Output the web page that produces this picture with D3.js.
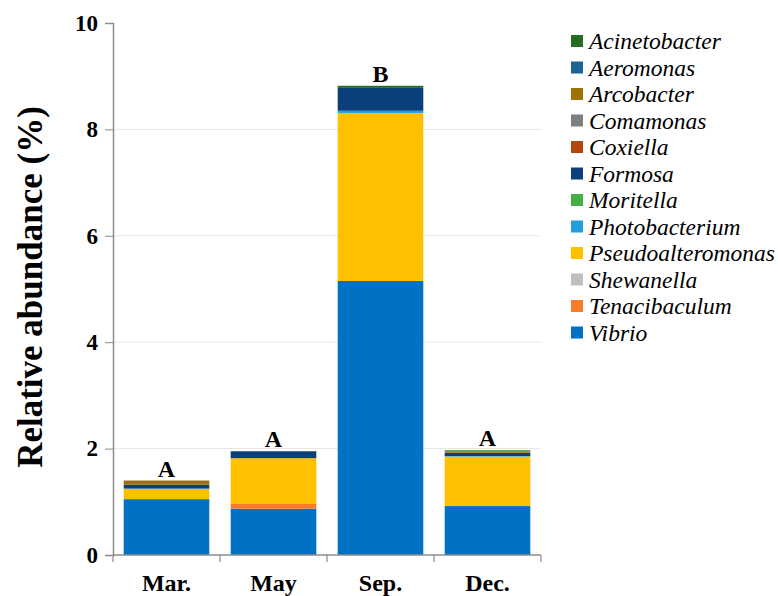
<!DOCTYPE html>
<html>
<head>
<meta charset="utf-8">
<script src="https://cdn.jsdelivr.net/npm/d3@7"></script>
<style>
  html, body { margin: 0; padding: 0; background: #fff; }
  svg { display: block; }
</style>
</head>
<body>
<svg id="chart" width="778" height="596"></svg>
<script>
// Sampling months
const months = ["Mar.", "May", "Sep.", "Dec."];

// Genera, in legend order (top of legend = top of stack)
const genera = ["Acinetobacter", "Aeromonas", "Arcobacter", "Comamonas", "Coxiella", "Formosa",
                "Moritella", "Photobacterium", "Pseudoalteromonas", "Shewanella", "Tenacibaculum", "Vibrio"];

// Relative abundance (%) per genus, one value per month (Mar., May, Sep., Dec.)
const acinetobacter     = [0.00, 0.00, 0.04, 0.01];
const aeromonas         = [0.00, 0.00, 0.00, 0.01];
const arcobacter        = [0.08, 0.00, 0.00, 0.02];
const comamonas         = [0.00, 0.00, 0.00, 0.00];
const coxiella          = [0.00, 0.00, 0.00, 0.01];
const formosa           = [0.07, 0.13, 0.43, 0.06];
const moritella         = [0.00, 0.00, 0.00, 0.00];
const photobacterium    = [0.01, 0.00, 0.04, 0.01];
const pseudoalteromonas = [0.19, 0.86, 3.16, 0.93];
const shewanella        = [0.00, 0.00, 0.00, 0.00];
const tenacibaculum     = [0.00, 0.09, 0.00, 0.00];
const vibrio            = [1.05, 0.87, 5.15, 0.92];

// Significance groups above each bar
const groupLetters = ["A", "A", "B", "A"];

// Y axis ticks
const yTicks = [0, 2, 4, 6, 8, 10];

const colors = {
  Acinetobacter: "#266b22",
  Aeromonas: "#1d6496",
  Arcobacter: "#9e7206",
  Comamonas: "#7f7f7f",
  Coxiella: "#b4470f",
  Formosa: "#0a3f7c",
  Moritella: "#46ae46",
  Photobacterium: "#1f9fdc",
  Pseudoalteromonas: "#ffc000",
  Shewanella: "#bfbfbf",
  Tenacibaculum: "#f97c2c",
  Vibrio: "#0071c3"
};

const FONT = "'Liberation Serif', 'Times New Roman', serif";

const seriesValues = {
  Acinetobacter: acinetobacter, Aeromonas: aeromonas, Arcobacter: arcobacter,
  Comamonas: comamonas, Coxiella: coxiella, Formosa: formosa, Moritella: moritella,
  Photobacterium: photobacterium, Pseudoalteromonas: pseudoalteromonas,
  Shewanella: shewanella, Tenacibaculum: tenacibaculum, Vibrio: vibrio
};

// Table rows for d3.stack
const rows = months.map((m, i) => {
  const r = { month: m };
  genera.forEach(g => { r[g] = seriesValues[g][i]; });
  return r;
});

// Stack from the bottom: Vibrio first, Acinetobacter last
const stackKeys = genera.slice().reverse();
const stacked = d3.stack().keys(stackKeys)(rows);

const svg = d3.select("#chart");
const plot = { left: 113, right: 541, top: 23, bottom: 555 };

const x = d3.scaleBand().domain(months).range([plot.left, plot.right]).paddingInner(0.2).paddingOuter(0.1);
const xBoundary = d3.scaleBand().domain(months).range([plot.left, plot.right]).padding(0);
const y = d3.scaleLinear().domain([0, 10]).range([plot.bottom, plot.top]);

// Horizontal gridlines
svg.append("g")
  .selectAll("line")
  .data(yTicks.filter(t => t > 0 && t < 10))
  .join("line")
  .attr("x1", plot.left).attr("x2", plot.right)
  .attr("y1", d => y(d)).attr("y2", d => y(d))
  .attr("stroke", "#e6e6e6").attr("stroke-width", 1);

// Stacked bars
svg.append("g")
  .selectAll("g")
  .data(stacked)
  .join("g")
  .attr("fill", d => colors[d.key])
  .selectAll("rect")
  .data(d => d)
  .join("rect")
  .attr("x", d => x(d.data.month))
  .attr("width", x.bandwidth())
  .attr("y", d => y(d[1]))
  .attr("height", d => Math.max(0, y(d[0]) - y(d[1])));

// Y axis
const yAxis = svg.append("g")
  .attr("transform", `translate(${plot.left},0)`)
  .call(d3.axisLeft(y).tickValues(yTicks).tickSize(8).tickPadding(7).tickFormat(d3.format("d")));
yAxis.select(".domain").attr("stroke", "#8c8c8c").attr("stroke-width", 1.5);
yAxis.selectAll(".tick line").attr("stroke", "#8c8c8c");
yAxis.selectAll("text")
  .style("font-family", FONT)
  .style("font-size", "23px").style("font-weight", "bold").attr("fill", "#000");

// X axis with tick marks at category boundaries
const xAxisG = svg.append("g").attr("transform", `translate(0,${plot.bottom})`);
xAxisG.append("line")
  .attr("x1", plot.left).attr("x2", plot.right)
  .attr("stroke", "#8c8c8c").attr("stroke-width", 1.5);
const boundaries = months.map(m => xBoundary(m)).concat([plot.right]);
xAxisG.selectAll("line.bound")
  .data(boundaries)
  .join("line").attr("class", "bound")
  .attr("x1", d => d).attr("x2", d => d)
  .attr("y1", 0).attr("y2", 7)
  .attr("stroke", "#8c8c8c").attr("stroke-width", 1.2);
xAxisG.selectAll("text")
  .data(months)
  .join("text")
  .attr("x", d => x(d) + x.bandwidth() / 2)
  .attr("y", 36)
  .attr("text-anchor", "middle")
  .style("font-family", FONT)
  .style("font-size", "24px").style("font-weight", "bold")
  .text(d => d);

// Y axis title
svg.append("text")
  .attr("transform", "translate(42,287) rotate(-90)")
  .attr("text-anchor", "middle")
  .style("font-family", FONT)
  .style("font-size", "35px").style("font-weight", "bold")
  .text("Relative abundance (%)");

// Group letters above bars
const totals = rows.map(r => genera.reduce((s, g) => s + r[g], 0));
svg.append("g")
  .selectAll("text")
  .data(months)
  .join("text")
  .attr("x", d => x(d) + x.bandwidth() / 2)
  .attr("y", (d, i) => y(totals[i]) - 4)
  .attr("text-anchor", "middle")
  .style("font-family", FONT)
  .style("font-size", "24px").style("font-weight", "bold")
  .text((d, i) => groupLetters[i]);

// Legend
const legend = svg.append("g").attr("transform", "translate(571,41)");
const item = legend.selectAll("g")
  .data(genera)
  .join("g")
  .attr("transform", (d, i) => `translate(0,${i * 26.5})`);
item.append("rect")
  .attr("x", 0).attr("y", -6).attr("width", 12).attr("height", 12)
  .attr("fill", d => colors[d]);
item.append("text")
  .attr("x", 18).attr("y", 8)
  .style("font-family", FONT)
  .style("font-size", "23.5px").style("font-style", "italic")
  .text(d => d);
</script>
</body>
</html>
